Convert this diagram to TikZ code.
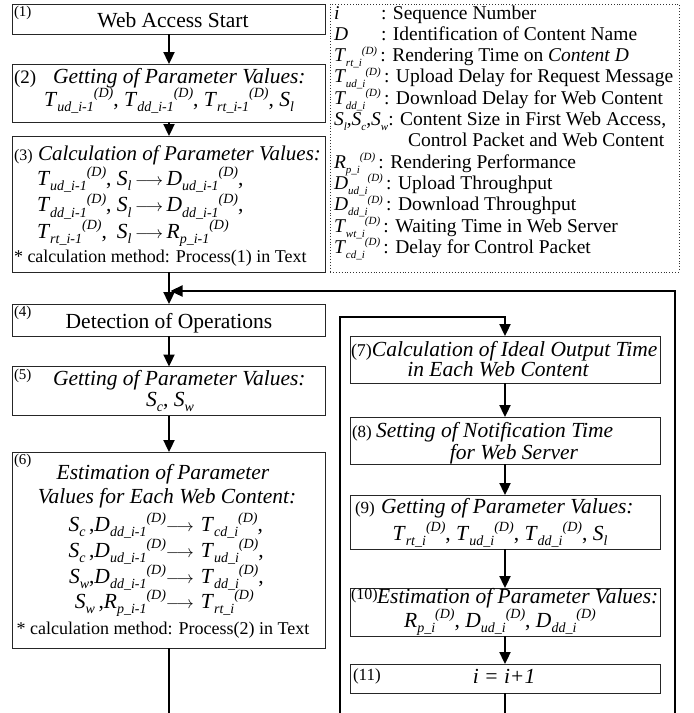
\documentclass[tikz,border=0pt]{standalone}
\usepackage{fontspec}
\setmainfont{Liberation Serif}
\usetikzlibrary{arrows.meta}

% sub- and superscripts set as small italic text, one after the other
\def\subsize{14}
\newcommand{\sbt}[1]{\raisebox{-0.26em}{\fontsize{\subsize}{\subsize}\selectfont\itshape #1}}
\newcommand{\spt}[1]{\raisebox{0.38em}{\fontsize{\subsize}{\subsize}\selectfont\itshape #1}}
\newcommand{\pv}[3]{\textit{#1}\sbt{#2}\spt{#3}}
\newcommand{\Sx}[1]{\textit{S}\sbt{#1}}
\newcommand{\rarr}{{\fontsize{17}{17}\selectfont$\longrightarrow$}}

\begin{document}
\begin{tikzpicture}[x=1pt,y=-1pt,
  every node/.style={inner sep=0pt, outer sep=0pt, font=\fontsize{21.5}{24}\selectfont},
  box/.style 2 args={draw=black!85, line width=0.9pt, minimum width=#1pt, minimum height=#2pt},
  legendbox/.style 2 args={draw=black!80, line width=0.9pt, dotted, minimum width=#1pt, minimum height=#2pt},
  flow/.style={line width=2.3pt, -{Triangle[length=12pt,width=11pt]}},
  wire/.style={line width=2.3pt},
  num/.style={anchor=base west, font=\fontsize{15}{15}\selectfont},
  lft/.style={anchor=base west},
  ctr/.style={anchor=base},
  it/.style={font=\fontsize{21.5}{24}\selectfont\itshape},
  note/.style={font=\fontsize{18}{18}\selectfont},
  leg/.style={anchor=base west, font={\fontsize{19.5}{20}\selectfont\def\subsize{11}}},
]
\useasboundingbox[fill=white] (0,0) rectangle (694,713);

% ---------- left column ----------
\node[box={313}{30}] (b1) at (169,19) {};
\node[num] (n1) at (14,16) {(1)};
\node[ctr] (t1) at (173,27) {Web Access Start};

\node[box={313}{58}] (b2) at (169,93) {};
\node[num, font=\fontsize{19}{19}\selectfont] (n2) at (14,83) {(2)};
\node[lft, it] (t2a) at (53,83) {Getting of Parameter Values:};
\node[ctr] (t2b) at (169,106) {\pv{T}{ud\_i-1}{(D)}, \pv{T}{dd\_i-1}{(D)}, \pv{T}{rt\_i-1}{(D)}, \Sx{l}};

\node[box={313}{136}] (b3) at (169,204) {};
\node[num, font=\fontsize{16}{16}\selectfont] (n3) at (14,160) {(3)};
\node[lft, font=\fontsize{21}{24}\selectfont\itshape] (t3a) at (38,160) {Calculation of Parameter Values:};
\node[lft] (t3b) at (37,185) {\makebox[80pt][l]{\pv{T}{ud\_i-1}{(D)},}\Sx{l}\,\rarr\,\pv{D}{ud\_i-1}{(D)},};
\node[lft] (t3c) at (37,211.5) {\makebox[80pt][l]{\pv{T}{dd\_i-1}{(D)},}\Sx{l}\,\rarr\,\pv{D}{dd\_i-1}{(D)},};
\node[lft] (t3d) at (37,238) {\makebox[80pt][l]{\pv{T}{rt\_i-1}{(D)},}\Sx{l}\,\rarr\,\pv{R}{p\_i-1}{(D)}};
\node[lft, note] (t3e) at (14,262) {* calculation method: Process(1) in Text};

\node[box={313}{32}] (b4) at (169,320) {};
\node[num] (n4) at (14,316) {(4)};
\node[ctr] (t4) at (169,328) {Detection of Operations};

\node[box={313}{49}] (b5) at (169,391) {};
\node[num] (n5) at (14,379) {(5)};
\node[lft, it] (t5a) at (53,385) {Getting of Parameter Values:};
\node[ctr] (t5b) at (170,406) {\Sx{c}, \Sx{w}};

\node[box={313}{196}] (b6) at (169,550) {};
\node[num] (n6) at (14,464) {(6)};
\node[ctr, it] (t6a) at (163,479) {Estimation of Parameter};
\node[ctr, it] (t6b) at (167,503) {Values for Each Web Content:};
\node[lft] (t6c) at (55,531) {\makebox[111pt][r]{\Sx{c}\,,\pv{D}{dd\_i-1}{(D)}}\rarr\hspace{7pt}\pv{T}{cd\_i}{(D)},};
\node[lft] (t6d) at (55,557) {\makebox[111pt][r]{\Sx{c}\,,\pv{D}{ud\_i-1}{(D)}}\rarr\hspace{7pt}\pv{T}{ud\_i}{(D)},};
\node[lft] (t6e) at (55,583) {\makebox[111pt][r]{\Sx{w},\pv{D}{dd\_i-1}{(D)}}\rarr\hspace{7pt}\pv{T}{dd\_i}{(D)},};
\node[lft] (t6f) at (55,608) {\makebox[111pt][r]{\Sx{w}\,,\pv{R}{p\_i-1}{(D)}}\rarr\hspace{7pt}\pv{T}{rt\_i}{(D)}};
\node[ctr, note] (t6g) at (163,634) {* calculation method: Process(2) in Text};

% ---------- legend ----------
\node[legendbox={349}{268}] (lg) at (504.5,138) {};
\node[leg] (l1) at (334,19) {\makebox[47pt][l]{\textit{i}}: Sequence Number};
\node[leg] (l2) at (334,40.3) {\makebox[47pt][l]{\textit{D}}: Identification of Content Name};
\node[leg] (l3) at (334,61.6) {\pv{T}{rt\_i}{(D)}\,: Rendering Time on \textit{Content D}};
\node[leg] (l4) at (334,82.9) {\pv{T}{ud\_i}{(D)}\,: Upload Delay for Request Message};
\node[leg] (l5) at (334,104.2) {\pv{T}{dd\_i}{(D)}\,: Download Delay for Web Content};
\node[leg] (l6) at (334,125.5) {\Sx{l},\Sx{c},\Sx{w}: Content Size in First Web Access,};
\node[leg] (l7) at (408,146.8) {Control Packet and Web Content};
\node[leg] (l8) at (334,168.1) {\pv{R}{p\_i}{(D)}\,: Rendering Performance};
\node[leg] (l9) at (334,189.4) {\pv{D}{ud\_i}{(D)}\,: Upload Throughput};
\node[leg] (l10) at (334,210.7) {\pv{D}{dd\_i}{(D)}\,: Download Throughput};
\node[leg] (l11) at (334,232) {\pv{T}{wt\_i}{(D)}\,: Waiting Time in Web Server};
\node[leg] (l12) at (334,253.3) {\pv{T}{cd\_i}{(D)}\,: Delay for Control Packet};

% ---------- right column ----------
\node[box={310}{47}] (b7) at (505,359.5) {};
\node[lft] (t7a) at (351,356) {{\fontsize{18}{18}\selectfont(7)}\textit{Calculation of Ideal Output Time}};
\node[ctr, it] (t7b) at (498,376) {in Each Web Content};

\node[box={310}{47}] (b8) at (505,440.5) {};
\node[num, font=\fontsize{17}{17}\selectfont] (n8) at (352,437) {(8)};
\node[lft, it] (t8a) at (376,437) {Setting of Notification Time};
\node[ctr, it] (t8b) at (514,459) {for Web Server};

\node[box={310}{54}] (b9) at (505,522) {};
\node[num, font=\fontsize{17}{17}\selectfont] (n9) at (355,513) {(9)};
\node[lft, it] (t9a) at (381,513) {Getting of Parameter Values:};
\node[ctr] (t9b) at (500,540) {\pv{T}{rt\_i}{(D)}, \pv{T}{ud\_i}{(D)}, \pv{T}{dd\_i}{(D)}, \Sx{l}};

\node[box={310}{48}] (b10) at (505,612) {};
\node[num, font=\fontsize{16}{16}\selectfont] (n10) at (351,599) {(10)};
\node[lft, it] (t10a) at (377,603) {Estimation of Parameter Values:};
\node[ctr] (t10b) at (500,627) {\pv{R}{p\_i}{(D)}, \pv{D}{ud\_i}{(D)}, \pv{D}{dd\_i}{(D)}};

\node[box={310}{29}] (b11) at (505,678.5) {};
\node[num, font=\fontsize{17}{17}\selectfont] (n11) at (353,680) {(11)};
\node[ctr, it] (t11) at (504,683) {i = i+1};

% ---------- loop ends and junctions ----------
\coordinate (merge) at (170.5,291);
\coordinate (outB) at (675,713);
\coordinate (inB) at (340,713);
\coordinate (inT) at (505,317);
\coordinate (e6) at (169,713);
\coordinate (e11) at (505,713);

% ---------- connectors ----------
\draw[flow] (b1.south) -- (b2.north);
\draw[flow] (b2.south) -- (b3.north);
\draw[flow] (b3.south) -- (b4.north);
\draw[flow] (b4.south) -- (b5.north);
\draw[flow] (b5.south) -- (b6.north);
\draw[wire] (b6.south) -- (e6);
\draw[flow] (outB) |- (merge);
\draw[flow] (inB) |- (inT) -- (b7.north);
\draw[flow] (b7.south) -- (b8.north);
\draw[flow] (b8.south) -- (b9.north);
\draw[flow] (b9.south) -- (b10.north);
\draw[flow] (b10.south) -- (b11.north);
\draw[wire] (b11.south) -- (e11);
\end{tikzpicture}
\end{document}
